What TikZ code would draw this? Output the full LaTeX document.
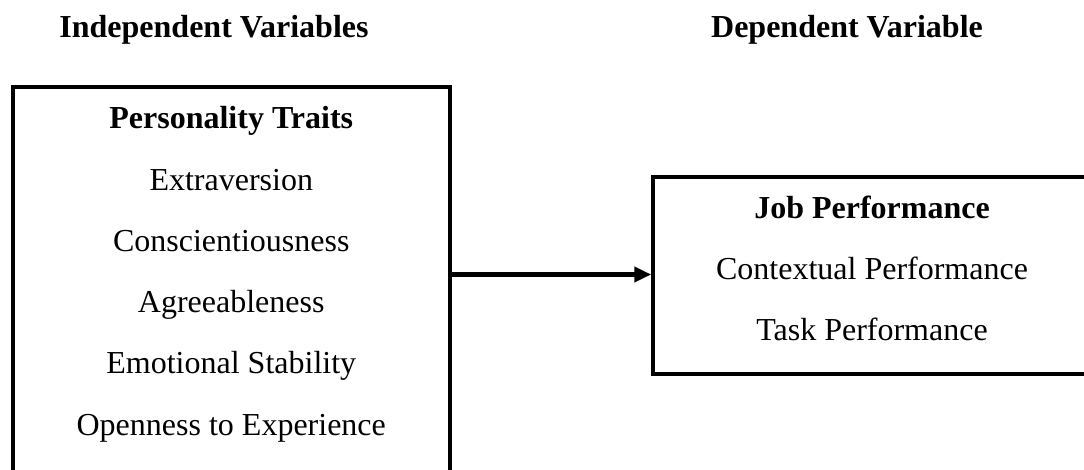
\documentclass[tikz,border=0pt]{standalone}
\usepackage{fontspec}
\setmainfont{Liberation Serif}
\usetikzlibrary{arrows.meta}
\begin{document}
\begin{tikzpicture}[x=1pt,y=-1pt,
  frame/.style={draw=black,line width=4pt,minimum width=437.5pt,inner sep=0pt},
  txt/.style={anchor=base,inner sep=0pt,font=\fontsize{32}{38}\selectfont},
  head/.style={anchor=base,inner sep=0pt,font=\fontsize{32}{38}\selectfont\bfseries},
  link/.style={line width=5pt,-{Triangle[length=17pt,width=15pt]}}]
  \useasboundingbox (0,0) rectangle (1084,470);
  \clip (0,0) rectangle (1084,470);

  % column headings
  \node[head] (indep) at (214,38) {Independent Variables};
  \node[head] (dep) at (847,38) {Dependent Variable};

  % boxes
  \node[frame,minimum height=413pt] (traits) at (231.25,293.5) {};
  \node[frame,minimum height=197pt] (perf) at (872,275.5) {};

  % personality traits
  \node[head] (traitsT) at (231.25,129) {Personality Traits};
  \node[txt] (t1) at (231.25,190.2) {Extraversion};
  \node[txt] (t2) at (231.25,251.4) {Conscientiousness};
  \node[txt] (t3) at (231.25,312.6) {Agreeableness};
  \node[txt] (t4) at (231.25,373.8) {Emotional Stability};
  \node[txt] (t5) at (231.25,435) {Openness to Experience};

  % job performance
  \node[head] (perfT) at (872,219) {Job Performance};
  \node[txt] (p1) at (872,279.5) {Contextual Performance};
  \node[txt] (p2) at (872,340) {Task Performance};

  % connector
  \draw[link] ([yshift=1pt]traits.east |- perf.west) -- ([yshift=1pt]perf.west);
\end{tikzpicture}
\end{document}
